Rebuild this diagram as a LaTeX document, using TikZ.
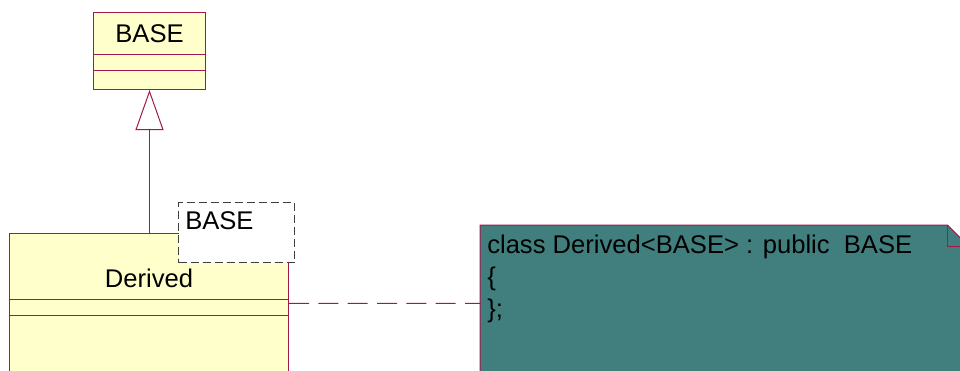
\documentclass[tikz,border=0pt]{standalone}
\usepackage{fontspec}
\setmainfont{Liberation Sans}
\usetikzlibrary{positioning,calc,arrows.meta}
\definecolor{umlline}{HTML}{A3184A}
\definecolor{classfill}{HTML}{FFFFCC}
\definecolor{notefill}{HTML}{417F7F}
\begin{document}
\begin{tikzpicture}[x=0.75pt,y=-0.75pt,
    classbox/.style={rectangle, draw=umlline, fill=classfill, line width=0.75pt, inner sep=0pt},
    paramnote/.style={rectangle, draw=black!75, dashed, dash pattern=on 6pt off 3pt, fill=white, line width=0.75pt, inner sep=0pt},
    umltext/.style={font=\fontsize{19.2pt}{19.7pt}\selectfont, inner sep=0pt},
    inherit/.style={draw=umlline, line width=0.75pt, -{Triangle[open, length=30pt, width=21pt, fill=white]}},
    notelink/.style={draw=umlline, line width=0.75pt, dash pattern=on 15pt off 7pt}]
    \clip (0,0) rectangle (960,371);

    \node (base) [classbox, minimum width=84pt, minimum height=57.75pt, anchor=north west] at (93,12) {};
    \node (basename) [umltext] at ($(base.north)+(0,22)$) {BASE};
    \draw [umlline, line width=0.75pt] ($(base.north west)+(0,42)$) -- ($(base.north east)+(0,42)$);
    \draw [umlline, line width=0.75pt] ($(base.north west)+(0,58)$) -- ($(base.north east)+(0,58)$);

    \node (derived) [classbox, minimum width=209.25pt, minimum height=105pt, anchor=north west] at (9,233) {};
    \node (derivedname) [umltext] at ($(derived.north)+(0,45)$) {Derived};
    \draw [umlline, line width=0.75pt] ($(derived.north west)+(0,66)$) -- ($(derived.north east)+(0,66)$);
    \draw [umlline, line width=0.75pt] ($(derived.north west)+(0,82)$) -- ($(derived.north east)+(0,82)$);

    \draw [inherit] (derived.north -| base.south) -- (base.south);

    \node (param) [paramnote, minimum width=87pt, minimum height=45pt, anchor=north west] at (178,202) {};
    \node (paramname) [umltext, anchor=north west] at ($(param.north west)+(7,9)$) {BASE};

    \node (note) [inner sep=0pt, minimum width=366pt, minimum height=117pt, anchor=north west] at (480,225) {};
    \draw [umlline, line width=0.75pt, fill=notefill]
        (note.north west) -- ($(note.north east)+(-21,0)$) -- ($(note.north east)+(0,21)$)
        -- (note.south east) -- (note.south west) -- cycle;
    \draw [umlline, line width=0.75pt] ($(note.north east)+(-21,0)$) -- ($(note.north east)+(-21,21)$) -- ($(note.north east)+(0,21)$);
    \node (notetext) [umltext, anchor=north west, align=left] at ($(note.north west)+(7,10)$)
        {class Derived<BASE> : public\ \ BASE\\[4pt]\{\\[4pt]\};};

    \draw [notelink] (derived) -- (note);
\end{tikzpicture}
\end{document}
